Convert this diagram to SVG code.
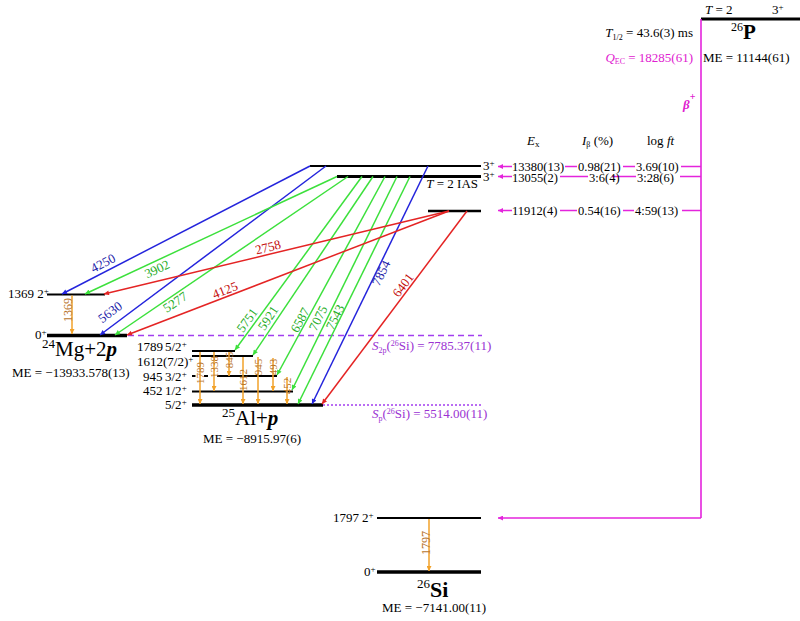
<svg xmlns="http://www.w3.org/2000/svg" width="800" height="621" viewBox="0 0 800 621" font-family="'Liberation Serif','DejaVu Serif',serif">
<style>
text{font-family:"Liberation Serif","DejaVu Serif",serif;font-size:13px;fill:#000}
.lv{stroke:#000;stroke-width:2}
.gs{stroke:#000;stroke-width:3.5}
.b{stroke:#2424dc;stroke-width:1.5;fill:none;marker-end:url(#mb)}
.g{stroke:#3ce03c;stroke-width:1.5;fill:none;marker-end:url(#mg)}
.r{stroke:#e42424;stroke-width:1.5;fill:none;marker-end:url(#mr)}
.o{stroke:#f2a22a;stroke-width:1.5;fill:none;marker-end:url(#mo)}
.m{stroke:#e424dc;stroke-width:1.6;fill:none}
.ma{marker-end:url(#mm)}
.bl{fill:#1c1ca8}
.gl{fill:#26ac26}
.rl{fill:#c40c0c}
.ol{fill:#b8742c;font-size:11px}
.ol2{fill:#b8742c;font-size:12px}
.mt{fill:#e020d0}
.pt{fill:#9a32d2}
.big{font-size:21px}
.sup{font-size:9px}
.tb{font-size:12.5px}
</style>
<defs>
<marker id="mb" viewBox="0 0 10 10" refX="10" refY="5" markerWidth="8" markerHeight="5" markerUnits="userSpaceOnUse" orient="auto"><path d="M0,0L10,5L0,10z" fill="#2424dc"/></marker>
<marker id="mg" viewBox="0 0 10 10" refX="10" refY="5" markerWidth="8" markerHeight="5" markerUnits="userSpaceOnUse" orient="auto"><path d="M0,0L10,5L0,10z" fill="#3ce03c"/></marker>
<marker id="mr" viewBox="0 0 10 10" refX="10" refY="5" markerWidth="8" markerHeight="5" markerUnits="userSpaceOnUse" orient="auto"><path d="M0,0L10,5L0,10z" fill="#e42424"/></marker>
<marker id="mo" viewBox="0 0 10 10" refX="10" refY="5" markerWidth="7" markerHeight="5" markerUnits="userSpaceOnUse" orient="auto"><path d="M0,0L10,5L0,10z" fill="#f2a22a"/></marker>
<marker id="mm" viewBox="0 0 10 10" refX="10" refY="5" markerWidth="9" markerHeight="5" markerUnits="userSpaceOnUse" orient="auto"><path d="M0,0L10,5L0,10z" fill="#e424dc"/></marker>
</defs>
<rect width="800" height="621" fill="#fff"/>

<!-- 26P parent -->
<g id="P26">
<line class="gs" x1="701" y1="19" x2="800" y2="19" style="stroke-width:3"/>
<text x="705" y="14"><tspan font-style="italic">T</tspan> = 2</text>
<text x="772" y="14">3<tspan class="sup" dy="-4">+</tspan></text>
<text x="731" y="39"><tspan font-size="12" dy="-8">26</tspan><tspan class="big" font-weight="bold" dy="8">P</tspan></text>
<text x="703" y="62">ME = 11144(61)</text>
<text x="693" y="37" text-anchor="end"><tspan font-style="italic">T</tspan><tspan font-size="8" dy="3">1/2</tspan><tspan dy="-3"> = 43.6(3) ms</tspan></text>
<text class="mt" x="693" y="62" text-anchor="end"><tspan font-style="italic">Q</tspan><tspan font-size="8" dy="2">EC</tspan><tspan dy="-2"> = 18285(61)</tspan></text>
<text class="mt" x="683" y="109" font-size="21" font-weight="bold" font-style="italic">β<tspan font-size="10" dy="-9" font-style="normal">+</tspan></text>
</g>

<!-- table headers -->
<g id="table-head">
<text x="527" y="145"><tspan font-style="italic">E</tspan><tspan font-size="9" dy="2">x</tspan></text>
<text x="582" y="145"><tspan font-style="italic">I</tspan><tspan font-size="8" dy="2">β</tspan><tspan dy="-2"> (%)</tspan></text>
<text x="647" y="145">log <tspan font-style="italic">ft</tspan></text>
</g>

<!-- 26Si high levels -->
<g id="L13380">
<line class="lv" x1="310" y1="166" x2="481" y2="166"/>
<text x="483" y="170">3<tspan class="sup" dy="-4">+</tspan></text>
</g>
<g id="L13055">
<line class="lv" x1="337" y1="176.5" x2="481" y2="176.5" style="stroke-width:3"/>
<text x="483" y="181">3<tspan class="sup" dy="-4">+</tspan></text>
<text x="478" y="188" text-anchor="end"><tspan font-style="italic">T</tspan> = 2 IAS</text>
</g>
<g id="L11912">
<line class="lv" x1="428" y1="211" x2="481" y2="211" style="stroke-width:2.5"/>
</g>

<!-- 24Mg + 2p -->
<g id="Mg1369">
<line class="lv" x1="47" y1="294.5" x2="105" y2="294.5"/>
<text x="8" y="298">1369 2<tspan class="sup" dy="-4">+</tspan></text>
</g>
<g id="Mg0">
<line class="gs" x1="47" y1="335.5" x2="127" y2="335.5"/>
<text x="35" y="339">0<tspan class="sup" dy="-4">+</tspan></text>
<text x="42" y="356"><tspan font-size="13" dy="-8">24</tspan><tspan class="big" dy="8">Mg+2</tspan><tspan class="big" font-weight="bold" font-style="italic">p</tspan></text>
<text x="12" y="377">ME = −13933.578(13)</text>
</g>

<!-- S2p, Sp thresholds -->
<g id="S2p">
<line x1="128" y1="335.5" x2="482" y2="335.5" stroke="#a23ef0" stroke-width="1.6" stroke-dasharray="6,4"/>
<text class="pt" x="372" y="350"><tspan font-style="italic">S</tspan><tspan font-size="8" dy="3">2p</tspan><tspan dy="-3">(</tspan><tspan font-size="8" dy="-4">26</tspan><tspan dy="4">Si) = 7785.37(11)</tspan></text>
</g>
<g id="Sp">
<line x1="323" y1="405" x2="482" y2="405" stroke="#a23ef0" stroke-width="1.6" stroke-dasharray="2,2"/>
<text class="pt" x="372" y="418"><tspan font-style="italic">S</tspan><tspan font-size="8" dy="3">p</tspan><tspan dy="-3">(</tspan><tspan font-size="8" dy="-4">26</tspan><tspan dy="4">Si) = 5514.00(11)</tspan></text>
</g>

<!-- 25Al + p -->
<g id="Al1789">
<line class="lv" x1="192" y1="351" x2="235" y2="351"/>
<text x="137" y="351">1789<tspan x="165">5/2</tspan><tspan class="sup" dy="-4">+</tspan></text>
</g>
<g id="Al1612">
<line class="lv" x1="192" y1="356" x2="253" y2="356"/>
<text x="137" y="366">1612(7/2)<tspan class="sup" dy="-4">+</tspan></text>
</g>
<g id="Al945">
<line class="lv" x1="192" y1="376" x2="277" y2="376"/>
<text x="143" y="381">945<tspan x="165">3/2</tspan><tspan class="sup" dy="-4">+</tspan></text>
<rect x="195.5" y="372" width="8.5" height="8" fill="#fff"/>
<rect x="208" y="372" width="9" height="8" fill="#fff"/>
</g>
<g id="Al452">
<line class="lv" x1="192" y1="391.5" x2="293" y2="391.5"/>
<text x="143" y="395">452<tspan x="165">1/2</tspan><tspan class="sup" dy="-4">+</tspan></text>
</g>
<g id="Al0">
<line class="gs" x1="192" y1="405" x2="323" y2="405"/>
<text x="165" y="409">5/2<tspan class="sup" dy="-4">+</tspan></text>
<text x="222" y="425"><tspan font-size="13" dy="-8">25</tspan><tspan class="big" dy="8">Al+</tspan><tspan class="big" font-weight="bold" font-style="italic">p</tspan></text>
<text x="203" y="443">ME = −8915.97(6)</text>
</g>

<!-- 26Si low levels -->
<g id="Si1797">
<line class="lv" x1="377" y1="518" x2="481" y2="518"/>
<text x="333" y="522">1797<tspan x="362">2</tspan><tspan class="sup" dy="-4">+</tspan></text>
</g>
<g id="Si0">
<line class="gs" x1="377" y1="572" x2="481" y2="572"/>
<text x="364" y="576">0<tspan class="sup" dy="-4">+</tspan></text>
<text x="417" y="597"><tspan font-size="13" dy="-9">26</tspan><tspan font-size="22" font-weight="bold" dy="9">Si</tspan></text>
<text x="382" y="612">ME = −7141.00(11)</text>
</g>

<!-- connectors -->
<g id="connectors">
<path class="m" d="M701,19 V518"/>
<path class="m ma" d="M701,518 H498"/>
<path class="m ma" d="M701,166.5 H498"/>
<path class="m ma" d="M701,176.5 H498"/>
<path class="m ma" d="M701,210.5 H498"/>
<g fill="#fff">
<rect x="512" y="160" width="53" height="12"/><rect x="577" y="160" width="46" height="12"/><rect x="635" y="160" width="46" height="12"/>
<rect x="512" y="171" width="48" height="11.5"/><rect x="588" y="171" width="24" height="11.5"/><rect x="636" y="171" width="44" height="11.5"/>
<rect x="512" y="204" width="48" height="13"/><rect x="577" y="204" width="46" height="13"/><rect x="634" y="204" width="48" height="13"/>
</g>
<g class="tb">
<text class="tb" x="512" y="170.5">13380(13)</text><text class="tb" x="578" y="170.5">0.98(21)</text><text class="tb" x="636" y="170.5">3.69(10)</text>
<text class="tb" x="512" y="181.5">13055(2)</text><text class="tb" x="589" y="181.5">3:6(4)</text><text class="tb" x="637" y="181.5">3:28(6)</text>
<text class="tb" x="512" y="215">11912(4)</text><text class="tb" x="578" y="215">0.54(16)</text><text class="tb" x="635" y="215">4:59(13)</text>
</g>

<path class="b" d="M310,166 L62,294"/>
<path class="b" d="M326,166 L100,335"/>
<path class="b" d="M428,166 L312,404"/>
<path class="g" d="M337,176.5 L85,294"/>
<path class="g" d="M348,176.5 L115,335"/>
<path class="g" d="M362,176.5 L235,350"/>
<path class="g" d="M373,176.5 L253,355"/>
<path class="g" d="M385,176.5 L277,375"/>
<path class="g" d="M397,176.5 L292,390"/>
<path class="g" d="M410,176.5 L298,404"/>
<path class="r" d="M449,211 L104,294"/>
<path class="r" d="M449,211 L127,335"/>
<path class="r" d="M467,211 L322,404"/>

<g text-anchor="middle">
<text class="bl" transform="translate(103,263) rotate(-27.3)" y="4.5">4250</text>
<text class="bl" transform="translate(110,312) rotate(-36.8)" y="4.5">5630</text>
<text class="bl" transform="translate(381,273) rotate(-64.1)" y="4.5">7854</text>
<text class="gl" transform="translate(157,269) rotate(-25.1)" y="4.5">3902</text>
<text class="gl" transform="translate(175,302) rotate(-34.3)" y="4.5">5277</text>
<text class="gl" transform="translate(247,320) rotate(-54)" y="4.5">5751</text>
<text class="gl" transform="translate(268,318) rotate(-56.3)" y="4.5">5921</text>
<text class="gl" transform="translate(300,320) rotate(-61.6)" y="4.5">6587</text>
<text class="gl" transform="translate(318,318) rotate(-64)" y="4.5">7075</text>
<text class="gl" transform="translate(335,317) rotate(-63.9)" y="4.5">7543</text>
<text class="rl" transform="translate(268,247) rotate(-13.5)" y="4.5">2758</text>
<text class="rl" transform="translate(225,290) rotate(-21.1)" y="4.5">4125</text>
<text class="rl" transform="translate(403,285) rotate(-53.2)" y="4.5">6401</text>
</g>

<path class="o" d="M72,295.5 V334"/>
<path class="o" d="M429,519 V571"/>
<path class="o" d="M200,352 V404"/>
<path class="o" d="M214,352 V391"/>
<path class="o" d="M229,352 V376"/>
<path class="o" d="M243,357 V404"/>
<path class="o" d="M258,357 V404"/>
<path class="o" d="M273,358 V391"/>
<path class="o" d="M287,377 V404"/>
<g text-anchor="middle">
<text class="ol2" transform="translate(71.5,310) rotate(-90)">1369</text>
<text class="ol2" transform="translate(430,543) rotate(-90)">1797</text>
<text class="ol" transform="translate(204,373) rotate(-90)">1789</text>
<text class="ol" transform="translate(218,367) rotate(-90)">1338</text>
<text class="ol" transform="translate(233,360) rotate(-90)">845</text>
<text class="ol" transform="translate(247,380) rotate(-90)">1612</text>
<text class="ol" transform="translate(262,367) rotate(-90)">945</text>
<text class="ol" transform="translate(277,367) rotate(-90)">493</text>
<text class="ol" transform="translate(291,386) rotate(-90)">452</text>
</g>
</g>
</svg>
